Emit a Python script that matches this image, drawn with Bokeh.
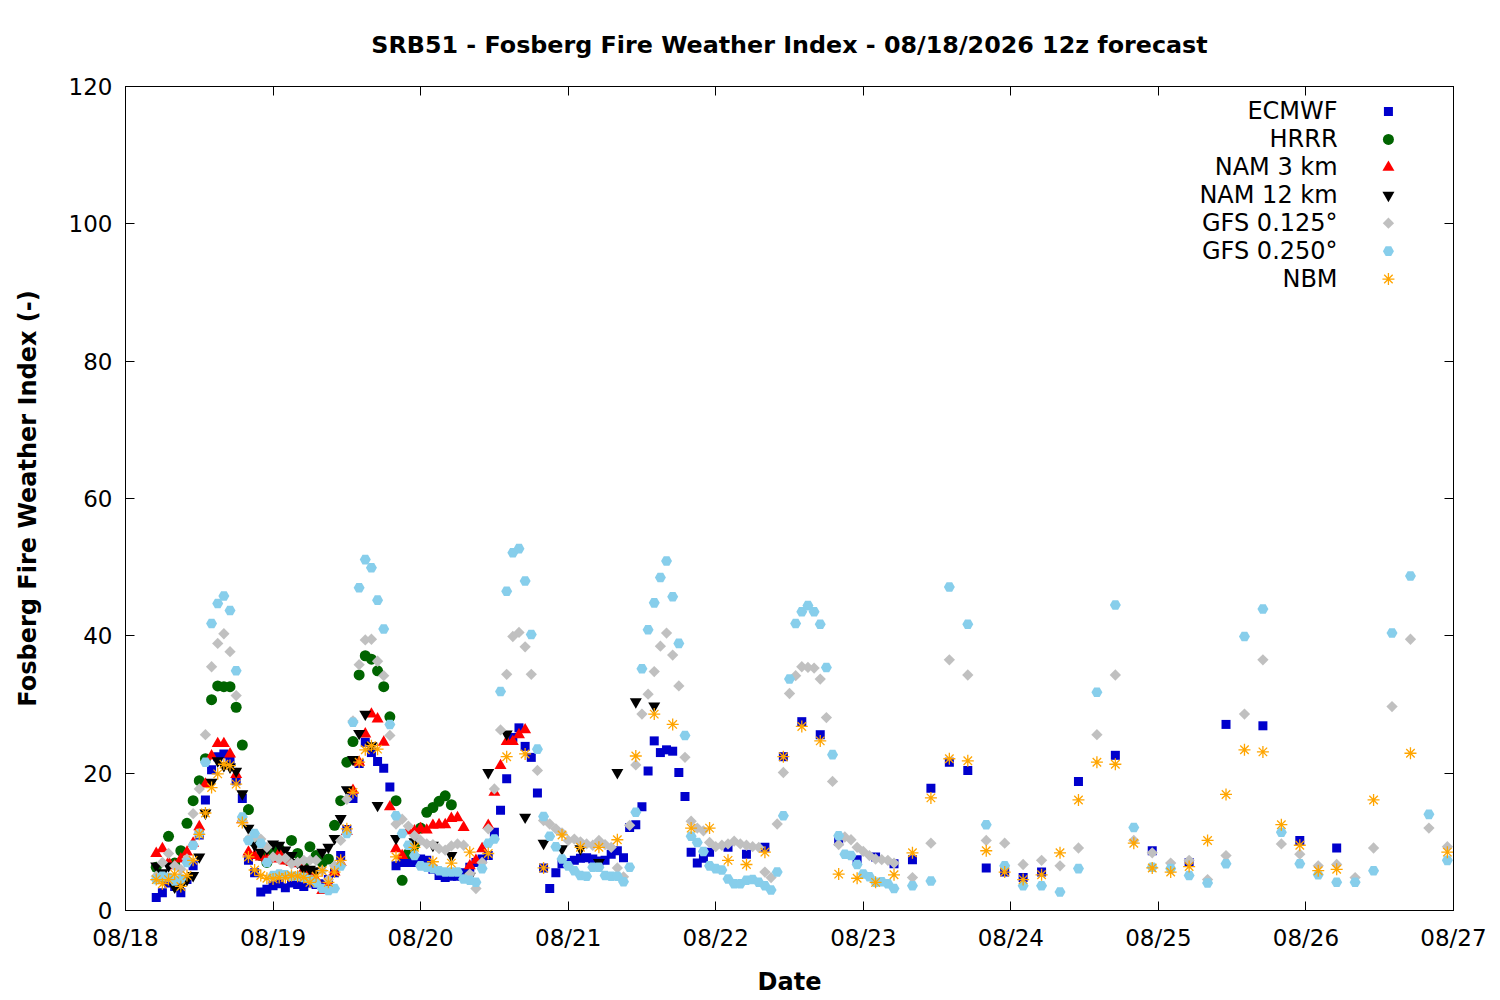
from bokeh.plotting import figure
from bokeh.models import Range1d, LinearAxis, FixedTicker, Label, ColumnDataSource
from bokeh.embed import file_html
from bokeh.resources import INLINE
import math

TITLE = "SRB51 - Fosberg Fire Weather Index - 08/18/2026 12z forecast"
DATE_LABELS = ["08/18", "08/19", "08/20", "08/21", "08/22", "08/23", "08/24", "08/25", "08/26", "08/27"]
Y_TICKS = [0, 20, 40, 60, 80, 100, 120]

# hours since 08/18 00 (local)
ecmwf_hours = list(range(5, 96)) + list(range(98, 150, 3)) + list(range(155, 198, 6))
ecmwf_vals = [1.9, 2.6, 4.0, 3.5, 2.6, 4.5, 6.5, 11.0, 16.1, 20.5,
              22.4, 22.8, 22.0, 18.9, 16.3, 7.3, 5.5, 2.7, 3.1, 3.6,
              3.9, 3.3, 4.0, 3.8, 3.5, 4.0, 3.8, 3.9, 4.5, 5.5,
              8.0, 11.8, 16.3, 21.4, 24.5, 23.0, 21.7, 20.7, 18.0, 6.5,
              7.0, 7.0, 7.0, 7.5, 7.3, 6.0, 5.1, 4.8, 5.0, 5.0,
              5.5, 6.3, 7.0, 7.5, 8.0, 11.4, 14.6, 19.2, 25.2, 26.6,
              23.9, 22.3, 17.1, 6.2, 3.2, 5.5, 6.8, 7.0, 7.3, 7.6,
              7.7, 7.5, 7.2, 7.3, 8.2, 8.7, 7.7, 12.1, 12.5, 15.1,
              20.3, 24.7, 23.0, 23.4, 23.2, 20.1, 16.6, 8.5, 6.9, 7.6, 8.5,
              9.2, 8.2, 9.2, 22.4, 27.5, 25.6, 10.1, 7.4, 7.8, 6.8,
              7.4, 17.8, 21.6, 20.4, 6.2, 5.6, 4.8, 5.6,
              18.8, 22.6, 8.7, 7.0, 27.1, 26.9, 10.2, 9.1]

hrrr_hours = list(range(5, 54))
hrrr_vals = [6.3, 5.0, 10.8, 6.9, 8.7, 12.7, 16.0, 18.9, 22.1, 30.7,
             32.7, 32.6, 32.6, 29.6, 24.1, 14.7, 10.0, 8.0, 7.0, 8.5,
             9.0, 7.5, 10.2, 8.3, 7.0, 9.3, 8.0, 7.0, 7.5, 12.4,
             16.0, 21.6, 24.6, 34.3, 37.1, 36.6, 34.9, 32.6, 28.2, 16.0,
             4.4, 8.3, 9.5, 12.0, 14.3, 15.0, 15.9, 16.7, 15.4]

nam3_hours = list(range(5, 66))
nam3_vals = [8.3, 9.0, 7.0, 6.5, 7.5, 8.5, 9.8, 12.2, 18.4, 22.5,
             24.3, 24.3, 22.8, 19.8, 13.2, 8.5, 8.0, 7.8, 7.6, 7.5,
             8.3, 7.2, 7.0, 6.8, 6.0, 5.5, 4.5, 2.9, 4.0, 5.6,
             7.0, 11.5, 17.5, 21.6, 25.7, 28.6, 27.9, 24.5, 15.1, 9.0,
             8.0, 11.6, 11.6, 11.9, 11.7, 12.4, 12.5, 12.5, 13.4, 13.5,
             12.1, 6.5, 7.3, 9.0, 12.4, 17.2, 21.1, 24.6, 24.6, 25.6, 26.3]

nam12_hours = list(range(5, 42)) + list(range(44, 87, 3))
nam12_vals = [6.5, 5.5, 6.5, 3.4, 3.6, 4.5, 5.1, 7.8, 14.2, 18.7,
              21.8, 21.1, 20.9, 20.3, 17.0, 12.0, 9.5, 8.5, 9.0, 9.7,
              9.5, 8.8, 8.0, 7.0, 6.1, 6.0, 5.8, 8.5, 9.2, 10.5,
              13.4, 17.6, 22.0, 25.8, 28.6, 24.0, 15.3,
              10.5, 10.0, 9.5, 8.0, 5.0, 20.1, 25.7, 13.6, 9.8, 9.0,
              9.0, 7.0, 20.1, 30.4, 29.8]

gfs125_hours = list(range(5, 126)) + list(range(128, 216, 3))
gfs125_vals = [5.0, 7.0, 8.3, 6.5, 6.0, 7.5, 14.1, 17.7, 25.6, 35.5,
               38.9, 40.3, 37.7, 31.3, 13.1, 10.4, 10.7, 10.4, 9.2, 7.8,
               7.5, 7.6, 6.8, 7.0, 7.3, 7.3, 7.3, 5.8, 4.5, 6.5,
               10.2, 16.2, 27.6, 35.8, 39.4, 39.5, 36.3, 34.2, 25.5, 12.6,
               13.3, 12.3, 10.9, 10.2, 9.7, 9.6, 9.0, 8.8, 9.4, 9.7,
               9.5, 5.3, 3.2, 7.0, 11.9, 17.7, 26.3, 34.4, 39.9, 40.5,
               38.4, 34.4, 20.4, 13.1, 12.6, 11.9, 11.3, 10.2, 10.4, 10.0,
               9.7, 9.5, 10.2, 9.6, 9.2, 6.2, 4.9, 12.4, 21.2, 28.6,
               31.5, 34.8, 38.5, 40.4, 37.2, 32.7, 22.3, 13.0, 12.0, 11.6,
               9.9, 9.3, 9.5, 9.7, 10.1, 9.7, 9.5, 9.3, 9.2, 5.6,
               4.8, 12.6, 20.1, 31.6, 34.2, 35.5, 35.4, 35.3, 33.7, 28.1,
               18.8, 9.6, 10.7, 10.3, 9.2, 8.6, 8.0, 7.5, 7.4, 7.3, 6.9,
               4.8, 9.8, 36.5, 34.3, 10.2, 9.8, 6.7, 7.3, 6.5, 9.1,
               25.6, 34.3, 10.2, 8.4, 6.9, 7.3, 4.5, 8.0, 28.6, 36.5,
               9.7, 8.2, 6.5, 6.7, 4.8, 9.1, 29.7, 39.5, 12.0, 9.3]

gfs250_hours = list(range(5, 126)) + list(range(128, 216, 3))
gfs250_vals = [4.5, 5.0, 4.8, 4.3, 4.6, 7.0, 9.5, 11.2, 21.6, 41.8,
               44.7, 45.8, 43.7, 34.9, 13.6, 10.2, 11.2, 9.8, 7.0, 5.1,
               5.3, 5.2, 5.0, 5.0, 4.8, 4.5, 4.0, 3.2, 2.9, 3.2,
               6.5, 11.2, 27.4, 47.0, 51.1, 49.9, 45.2, 41.0, 27.1, 13.8,
               11.2, 9.5, 8.0, 6.5, 6.3, 6.1, 5.8, 5.6, 5.6, 5.6,
               4.6, 4.4, 4.1, 6.1, 9.8, 10.4, 31.9, 46.5, 52.1, 52.7,
               48.0, 40.2, 23.5, 13.7, 10.8, 9.3, 7.5, 6.5, 5.8, 5.1,
               5.0, 6.3, 6.3, 5.1, 5.0, 5.0, 4.2, 6.3, 14.3, 35.2,
               40.9, 44.8, 48.5, 50.9, 45.7, 38.9, 25.5, 10.8, 9.9, 8.6,
               6.5, 6.1, 5.9, 4.6, 3.9, 3.9, 4.4, 4.5, 4.1, 3.6,
               3.0, 5.6, 13.8, 33.7, 41.8, 43.5, 44.4, 43.5, 41.7, 35.4,
               22.7, 10.9, 8.2, 8.0, 6.7, 5.3, 4.9, 4.1, 4.2, 3.9, 3.2,
               3.6, 4.3, 47.1, 41.7, 12.5, 6.5, 3.6, 3.6, 2.7, 6.1,
               31.8, 44.5, 12.1, 6.3, 6.1, 5.1, 4.0, 6.8, 39.9, 43.9,
               11.4, 6.8, 5.2, 4.1, 4.1, 5.8, 40.4, 48.7, 14.0, 7.3]

nbm_hours = list(range(5, 42)) + list(range(44, 198, 3)) + list(range(203, 216, 6))
nbm_vals = [4.5, 3.9, 4.5, 5.3, 3.5, 5.1, 7.3, 11.1, 14.2, 17.9,
            19.9, 21.3, 21.1, 18.4, 12.8, 7.8, 5.9, 5.1, 4.7, 4.6,
            4.8, 4.8, 5.1, 5.0, 4.8, 4.1, 5.0, 5.8, 4.1, 5.6,
            7.3, 11.9, 17.2, 21.6, 23.4, 24.0, 23.5,
            7.8, 9.2, 7.1, 6.9, 8.5, 8.3, 22.4, 22.8, 6.2, 11.0,
            9.2, 9.2, 10.3, 22.5, 28.6, 27.1, 12.0, 12.0, 7.3, 6.7,
            8.5, 22.4, 26.8, 24.7, 5.3, 4.7, 4.1, 5.2, 8.4, 16.4,
            22.1, 21.8, 8.7, 5.6, 4.5, 5.2, 8.4, 16.1, 21.6, 21.3,
            9.8, 6.2, 5.6, 6.4, 10.2, 16.9, 23.4, 23.1, 12.5, 9.5,
            5.8, 6.0,
            16.1, 22.9, 8.5]

FONT = "DejaVu Sans"
FS_TICK = "23px"
FS = "24px"
X_MAX = 24 * (len(DATE_LABELS) - 1)
Y_MAX = Y_TICKS[-1]

p = figure(width=1492, height=998, output_backend="svg", toolbar_location=None,
           x_range=Range1d(0, X_MAX), y_range=Range1d(0, Y_MAX),
           min_border_left=125, min_border_right=39, min_border_top=85, min_border_bottom=88)
p.title.text = TITLE
p.title.text_font = FONT
p.title.text_font_size = "23.8px"
p.title.text_font_style = "bold"
p.title.text_color = "black"
p.title.align = "center"
p.title.standoff = 56
p.grid.visible = False
p.outline_line_color = "black"
p.outline_line_width = 1
p.background_fill_color = "white"
p.border_fill_color = "white"

x_ticks = [24 * i for i in range(len(DATE_LABELS))]
xax = p.xaxis[0]
xax.ticker = FixedTicker(ticks=x_ticks)
xax.major_label_overrides = {t: lab for t, lab in zip(x_ticks, DATE_LABELS)}
xax.axis_label = "Date"
yax = p.yaxis[0]
yax.ticker = FixedTicker(ticks=Y_TICKS)
yax.axis_label = "Fosberg Fire Weather Index (-)"

for ax in (xax, yax):
    ax.major_tick_in = 9
    ax.major_tick_out = 0
    ax.minor_tick_line_color = None
    ax.major_label_text_font = FONT
    ax.major_label_text_font_size = FS_TICK
    ax.major_label_text_color = "black"
    ax.axis_label_text_font = FONT
    ax.axis_label_text_font_size = FS
    ax.axis_label_text_font_style = "bold"
    ax.axis_label_text_color = "black"
    ax.axis_line_color = "black"
    ax.major_tick_line_color = "black"
xax.major_label_standoff = 14
xax.axis_label_standoff = 14
yax.major_label_standoff = 13
yax.axis_label_standoff = 24

# mirrored ticks on top and right
top = LinearAxis(ticker=FixedTicker(ticks=x_ticks))
right = LinearAxis(ticker=FixedTicker(ticks=Y_TICKS))
for ax in (top, right):
    ax.major_tick_in = 9
    ax.major_tick_out = 0
    ax.minor_tick_line_color = None
    ax.major_label_text_color = None
    ax.major_label_text_font_size = "1px"
    ax.major_label_standoff = 0
    ax.axis_line_color = "black"
    ax.major_tick_line_color = "black"
p.add_layout(top, "above")
p.add_layout(right, "right")

series = [
    ("ECMWF", ecmwf_hours, ecmwf_vals, dict(marker="square", size=9, fill_color="#0000cc", line_color="#0000cc", line_width=0)),
    ("HRRR", hrrr_hours, hrrr_vals, dict(marker="circle", size=11, fill_color="#006400", line_color="#006400", line_width=0)),
    ("NAM 3 km", nam3_hours, nam3_vals, dict(marker="triangle", size=12, fill_color="#ff0000", line_color="#ff0000", line_width=0)),
    ("NAM 12 km", nam12_hours, nam12_vals, dict(marker="inverted_triangle", size=12, fill_color="#000000", line_color="#000000", line_width=0)),
    ("GFS 0.125°", gfs125_hours, gfs125_vals, dict(marker="square", size=8, angle=math.pi / 4, fill_color="#c0c0c0", line_color="#c0c0c0", line_width=0)),
    ("GFS 0.250°", gfs250_hours, gfs250_vals, dict(marker="hex", size=11, fill_color="#87ceeb", line_color="#87ceeb", line_width=0)),
    ("NBM", nbm_hours, nbm_vals, dict(marker="asterisk", size=12, line_color="#ffa500", line_width=1.3)),
]

# legend position (fractions of the plot area)
leg_text_x = X_MAX * 0.9127
leg_mark_x = X_MAX * 0.951
leg_y0 = Y_MAX * 0.9697
leg_dy = Y_MAX * 0.0339

for i, (name, hrs, vals, style) in enumerate(series):
    src = ColumnDataSource(dict(x=hrs, y=vals))
    p.scatter("x", "y", source=src, **style)
    ly = leg_y0 - i * leg_dy
    p.scatter([leg_mark_x], [ly], **style)
    p.add_layout(Label(x=leg_text_x, y=ly, text=name, text_align="right", text_baseline="middle",
                       text_font=FONT, text_font_size=FS, text_color="black"))

open("out.html", "w").write(file_html(p, INLINE))
